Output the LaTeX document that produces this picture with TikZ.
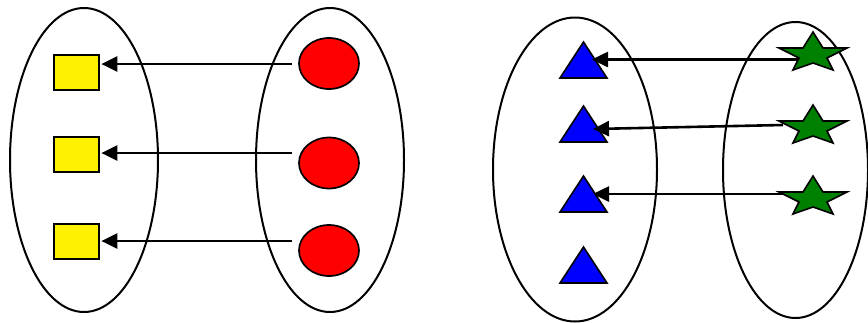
\documentclass[tikz,border=0pt]{standalone}
\usetikzlibrary{shapes.geometric,arrows.meta,calc}
\definecolor{stargreen}{RGB}{0,128,0}
\tikzset{
  setellipse/.style={draw=black, line width=2pt, shape=ellipse, inner sep=0pt},
  sqbox/.style={draw=black, fill=yellow, line width=1.7pt, shape=rectangle, minimum width=45pt, minimum height=35pt, inner sep=0pt},
  redball/.style={draw=black, fill=red, line width=1.7pt, shape=ellipse, minimum width=60pt, minimum height=51pt, inner sep=0pt},
  arr/.style={line width=2.6pt, -{Triangle[length=16pt,width=15pt]}},
  tri/.pic={\draw[line width=1.6pt, fill=blue, line join=miter] (0,0) -- (23.5,36) -- (-23.5,36) -- cycle;},
  gstar/.pic={\draw[line width=1.6pt, fill=stargreen, line join=miter]
     (0,-16) -- (10,0) -- (34,0) -- (14,10) -- (20,22) -- (0,15) -- (-20,22) -- (-14,10) -- (-34,0) -- (-10,0) -- cycle;}
}
\begin{document}
\begin{tikzpicture}[x=1pt,y=-1pt]
\useasboundingbox (0,0) rectangle (868,322);
% left panel
\node[setellipse, minimum width=148pt, minimum height=304pt] (A) at (84,160) {};
\node[setellipse, minimum width=148pt, minimum height=304pt] (B) at (330,160) {};
\node[sqbox] (sq1) at (76.5,72.5) {};
\node[sqbox] (sq2) at (76.5,154.5) {};
\node[sqbox] (sq3) at (76.5,241.5) {};
\node[redball] (c1) at (329,63.5) {};
\node[redball] (c2) at (329,163) {};
\node[redball] (c3) at (329,250.5) {};
\draw[arr] ($(c1.west)+(-6,0.5)$) -- ($(sq1.east)+(1.5,-8.5)$);
\draw[arr] ($(c2.west)+(-6,-10)$) -- ($(sq2.east)+(1.5,-1.5)$);
\draw[arr] ($(c3.west)+(-6,-9.5)$) -- ($(sq3.east)+(1.5,-0.5)$);
% right panel
\node[setellipse, minimum width=164pt, minimum height=304pt] (C) at (575,169.5) {};
\node[setellipse, minimum width=145pt, minimum height=296pt] (D) at (795.5,170) {};
\pic at (583.5,42) {tri};
\pic at (583.5,106) {tri};
\pic at (583.5,176) {tri};
\pic at (583.5,247) {tri};
\coordinate (t1) at (592,59.5);
\coordinate (t2) at (593,129);
\coordinate (t3) at (593,194);
\coordinate (s1) at (800,59.5);
\coordinate (s2) at (783,125);
\coordinate (s3) at (783,194);
\draw[arr] (s1) -- (t1);
\draw[arr] (s2) -- (t2);
\draw[arr] (s3) -- (t3);
\pic at (813,48) {gstar};
\pic at (813,121) {gstar};
\pic at (813,192) {gstar};
\end{tikzpicture}
\end{document}
